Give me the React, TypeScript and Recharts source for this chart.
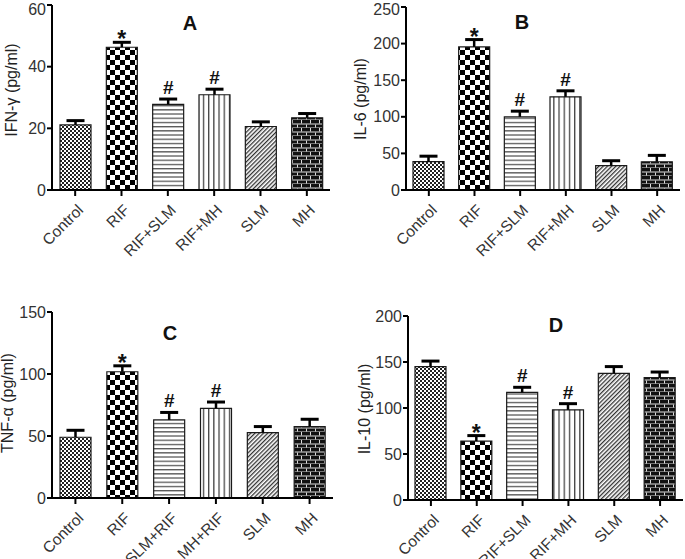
import React from "react";
import { BarChart, Bar, XAxis, YAxis, Cell, LabelList } from "recharts";

// group names
const groupsAB = ["Control", "RIF", "RIF+SLM", "RIF+MH", "SLM", "MH"];
const groupsC = ["Control", "RIF", "SLM+RIF", "MH+RIF", "SLM", "MH"];
const groupsD = ["Control", "RIF", "RIF+SLM", "RIF+MH", "SLM", "MH"];

// significance marks
const marks = ["", "*", "#", "#", "", ""];

// A: IFN-gamma
const ifnMean = [21.1, 46.3, 27.8, 30.9, 20.6, 23.4];
const ifnErr = [1.4, 1.6, 1.7, 1.8, 1.5, 1.4];
const ifnTicks = [0, 20, 40, 60];

// B: IL-6
const il6Mean = [38.7, 195.5, 100, 127.3, 33.2, 38.6];
const il6Err = [7.5, 10, 7.7, 8.2, 6.8, 8.7];
const il6Ticks = [0, 50, 100, 150, 200, 250];

// C: TNF-alpha
const tnfMean = [49, 101.8, 63, 72.3, 52.8, 57.6];
const tnfErr = [5.6, 4.8, 6, 5.1, 4.8, 5.9];
const tnfTicks = [0, 50, 100, 150];

// D: IL-10
const il10Mean = [145, 64, 117, 98, 137.7, 133];
const il10Err = [6, 6, 5.5, 6.7, 7.3, 6.1];
const il10Ticks = [0, 50, 100, 150, 200];

const FONT = "'Liberation Sans', Arial, sans-serif";
const patternIds = ["pCtrl", "pRif", "pHor", "pVer", "pDiag", "pBrick"];

function Patterns() {
  return (
    <svg width={0} height={0} style={{ position: "absolute" }}>
      <defs>
        <pattern id="pCtrl" patternUnits="userSpaceOnUse" width={4} height={4}>
          <rect width={4} height={4} fill="#fff" />
          <rect x={0} y={0} width={2} height={2} fill="#222" />
          <rect x={2} y={2} width={2} height={2} fill="#222" />
        </pattern>
        <pattern id="pRif" patternUnits="userSpaceOnUse" width={10} height={10}>
          <rect width={10} height={10} fill="#fff" />
          <rect x={0} y={0} width={5} height={5} fill="#000" />
          <rect x={5} y={5} width={5} height={5} fill="#000" />
        </pattern>
        <pattern id="pHor" patternUnits="userSpaceOnUse" width={4} height={4.2}>
          <rect width={4} height={4.2} fill="#fff" />
          <rect x={0} y={0} width={4} height={1.3} fill="#555" />
        </pattern>
        <pattern id="pVer" patternUnits="userSpaceOnUse" width={5.2} height={4}>
          <rect width={5.2} height={4} fill="#fff" />
          <rect x={0} y={0} width={1.3} height={4} fill="#444" />
        </pattern>
        <pattern id="pDiag" patternUnits="userSpaceOnUse" width={3} height={3} patternTransform="rotate(45)">
          <rect width={3} height={3} fill="#fff" />
          <rect x={0} y={0} width={1.3} height={3} fill="#333" />
        </pattern>
        <pattern id="pBrick" patternUnits="userSpaceOnUse" width={18} height={8}>
          <rect width={18} height={8} fill="#111" />
          <rect x={0} y={3.5} width={18} height={1} fill="#ddd" />
          <rect x={0} y={7.5} width={18} height={1} fill="#ddd" />
          <rect x={4} y={0} width={1} height={3.5} fill="#ddd" />
          <rect x={13} y={0} width={1} height={3.5} fill="#ddd" />
          <rect x={0} y={4.5} width={1} height={3} fill="#ddd" />
          <rect x={9} y={4.5} width={1} height={3} fill="#ddd" />
        </pattern>
      </defs>
    </svg>
  );
}

const XTick = (props: any) => {
  const { x, y, payload } = props;
  return (
    <g transform={`translate(${x + 9},${y + 13}) rotate(-45)`}>
      <text x={0} y={0} textAnchor="end" fill="#333" fontSize={15.5} fontFamily={FONT}>
        {payload.value}
      </text>
    </g>
  );
};

// upward-only error bar with a cap, scaled from the bar's own pixel height
function makeErr(means: number[]) {
  return (props: any) => {
    const { x, y, width, height, value, index } = props;
    const pxPerUnit = height / means[index];
    const cx = x + width / 2;
    const top = y - value * pxPerUnit;
    return (
      <g>
        <line x1={cx} x2={cx} y1={y} y2={top} stroke="#000" strokeWidth={2.5} />
        <line x1={cx - 9} x2={cx + 9} y1={top} y2={top} stroke="#000" strokeWidth={3} />
      </g>
    );
  };
}

function makeSig(means: number[], errs: number[]) {
  return (props: any) => {
    const { x, y, width, height, value, index } = props;
    if (!value) return null;
    const pxPerUnit = height / means[index];
    const errTop = y - errs[index] * pxPerUnit;
    const isStar = value === "*";
    return (
      <text
        x={x + width / 2}
        y={isStar ? errTop + 5 : errTop - 5}
        textAnchor="middle"
        fontSize={isStar ? 23 : 19}
        fontWeight="bold"
        fontFamily={FONT}
        fill="#111"
      >
        {value}
      </text>
    );
  };
}

interface PanelProps {
  left: number;
  top: number;
  width: number;
  height: number;
  groups: string[];
  means: number[];
  errs: number[];
  ticks: number[];
  yAxisWidth: number;
  xAxisHeight: number;
  marginTop: number;
  marginRight: number;
}

function Panel(p: PanelProps) {
  const data = p.groups.map((name, i) => ({
    name,
    value: p.means[i],
    err: p.errs[i],
    sig: marks[i],
  }));
  const max = p.ticks[p.ticks.length - 1];
  return (
    <div style={{ position: "absolute", left: p.left, top: p.top }}>
      <BarChart
        width={p.width}
        height={p.height}
        data={data}
        margin={{ top: p.marginTop, right: p.marginRight, left: 0, bottom: 0 }}
      >
        <XAxis
          dataKey="name"
          height={p.xAxisHeight}
          axisLine={{ stroke: "#000", strokeWidth: 2 }}
          tickLine={{ stroke: "#000", strokeWidth: 2 }}
          tickSize={6}
          tickMargin={2}
          interval={0}
          tick={<XTick />}
        />
        <YAxis
          width={p.yAxisWidth}
          domain={[0, max]}
          ticks={p.ticks}
          allowDataOverflow
          axisLine={{ stroke: "#000", strokeWidth: 2 }}
          tickLine={{ stroke: "#000", strokeWidth: 2 }}
          tickSize={5}
          tickMargin={1}
          tick={{ fill: "#333", fontSize: 16, fontFamily: FONT }}
        />
        <Bar dataKey="value" barSize={31} stroke="#1a1a1a" strokeWidth={1.2} isAnimationActive={false}>
          {data.map((d, i) => (
            <Cell key={d.name} fill={`url(#${patternIds[i]})`} />
          ))}
          <LabelList dataKey="err" content={makeErr(p.means)} />
          <LabelList dataKey="sig" content={makeSig(p.means, p.errs)} />
        </Bar>
      </BarChart>
    </div>
  );
}

const titleStyle: React.CSSProperties = {
  position: "absolute",
  fontFamily: FONT,
  fontWeight: "bold",
  fontSize: 20,
  color: "#111",
  transform: "translate(-50%, -50%)",
};

const yTitleStyle: React.CSSProperties = {
  position: "absolute",
  fontFamily: FONT,
  fontSize: 16,
  color: "#222",
  whiteSpace: "nowrap",
  transform: "translate(-50%, -50%) rotate(-90deg)",
};

export default function App() {
  return (
    <div
      style={{
        position: "absolute",
        left: 0,
        top: 0,
        width: 685,
        height: 559,
        background: "#fff",
        overflow: "hidden",
      }}
    >
      <Patterns />
      <Panel left={0} top={0} width={340} height={280} groups={groupsAB} means={ifnMean} errs={ifnErr}
        ticks={ifnTicks} yAxisWidth={52} xAxisHeight={90} marginTop={5} marginRight={10} />
      <Panel left={340} top={0} width={345} height={280} groups={groupsAB} means={il6Mean} errs={il6Err}
        ticks={il6Ticks} yAxisWidth={66} xAxisHeight={90} marginTop={7} marginRight={5} />
      <Panel left={0} top={280} width={340} height={279} groups={groupsC} means={tnfMean} errs={tnfErr}
        ticks={tnfTicks} yAxisWidth={52} xAxisHeight={61} marginTop={32} marginRight={7} />
      <Panel left={340} top={280} width={345} height={279} groups={groupsD} means={il10Mean} errs={il10Err}
        ticks={il10Ticks} yAxisWidth={68} xAxisHeight={59} marginTop={36} marginRight={2} />

      <div style={{ ...titleStyle, left: 190, top: 23 }}>A</div>
      <div style={{ ...titleStyle, left: 522, top: 22 }}>B</div>
      <div style={{ ...titleStyle, left: 170, top: 333 }}>C</div>
      <div style={{ ...titleStyle, left: 556, top: 325 }}>D</div>

      <div style={{ ...yTitleStyle, left: 12, top: 90 }}>IFN-γ (pg/ml)</div>
      <div style={{ ...yTitleStyle, left: 361, top: 99 }}>IL-6 (pg/ml)</div>
      <div style={{ ...yTitleStyle, left: 8, top: 403 }}>TNF-α (pg/ml)</div>
      <div style={{ ...yTitleStyle, left: 365, top: 409 }}>IL-10 (pg/ml)</div>
    </div>
  );
}
